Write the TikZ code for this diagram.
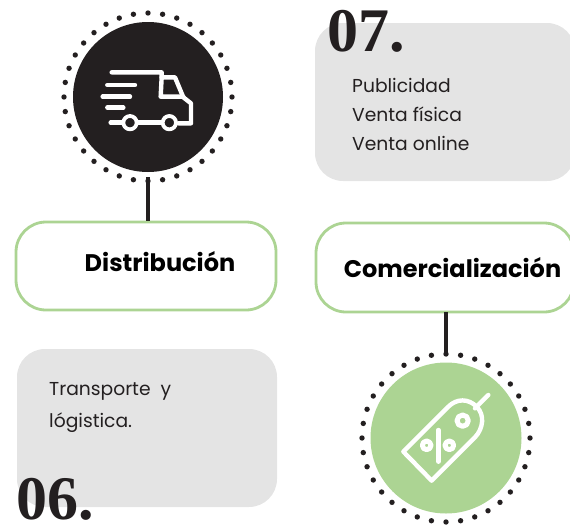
\documentclass[tikz,border=0pt]{standalone}
\usepackage{fontspec}
\usetikzlibrary{calc}
\setmainfont{Poppins}
\newfontfamily\numfont{Liberation Serif}
\definecolor{ink}{HTML}{231F20}
\definecolor{leaf}{HTML}{ACD493}
\definecolor{panel}{HTML}{E4E4E4}
\tikzset{
  panelbox/.style={fill=panel,rounded corners=28pt},
  stagebox/.style={draw=leaf,line width=2.8pt,fill=white,rounded corners=30pt},
  bodytext/.style={font=\fontsize{18.7}{29}\selectfont,anchor=base west,inner sep=0pt,text=ink},
  titletext/.style={font=\fontsize{24}{28}\selectfont\bfseries,inner sep=0pt,text=black,anchor=base},
  numtext/.style={font=\fontsize{62}{62}\numfont\bfseries,inner sep=0pt,text=ink,anchor=base west},
  icon/.style={draw=white,line width=4.4pt,line cap=round,line join=round},
  link/.style={draw=ink,line width=3.2pt},
  ringdot/.style={fill=ink,draw=none},
}
\begin{document}
\begin{tikzpicture}[x=1pt,y=-1pt]
\useasboundingbox (0,0) rectangle (570,525);
% panels
\fill[panelbox] (315,23) rectangle (575,181);
\fill[panelbox] (17,349) rectangle (277,507);
% numbers
\node[numtext] (n07) at (327,51) {07.};
\node[numtext] (n06) at (16,519) {06.};
% panel text
\node[bodytext] (t1) at (352,92) {Publicidad};
\node[bodytext] (t2) at (352,121) {Venta física};
\node[bodytext] (t3) at (352,150) {Venta online};
\node[bodytext] (t4) at (49,395) {Transporte\ \ y};
\node[bodytext] (t5) at (49,427) {lógistica.};
% discs
\node[circle,fill=ink,minimum size=150pt,inner sep=0pt] (disc1) at (148,97) {};
\node[circle,fill=leaf,minimum size=151pt,inner sep=0pt] (disc2) at (446,438) {};
\foreach \a in {0,10,...,350}{
  \fill[ringdot] (148,97) ++(\a:84 and -84) circle (2.7pt);
  \fill[ringdot] (446,438) ++(\a:84 and -84) circle (2.7pt);
}
% stage boxes
\node[stagebox,minimum width=260pt,minimum height=88pt,inner sep=0pt] (dist) at (146,266) {};
\node[titletext] (distlabel) at (160,271) {Distribución};
\draw[stagebox] (316,223) rectangle (574,312);
\coordinate (comtop) at (446,312);
\node[titletext] (com) at (452.5,277) {Comercialización};
% connectors
\draw[link] ($(disc1.south)+(0,5)$) -- (disc1.south |- dist.north);
\draw[link] (comtop) -- ($(disc2.north)+(0,-10)$);
% truck
\begin{scope}[shift={(50,0)},scale=1/3]
  \draw[icon] (185,217) -- (335,217) -- (335,232) -- (375,232) -- (400,292) -- (423,310) -- (423,370) -- (385,370);
  \draw[icon] (335,232) -- (332,290) -- (400,290);
  \draw[icon] (172,255) -- (255,255);
  \draw[icon] (158,290) -- (240,290);
  \draw[icon] (172,323) -- (220,323);
  \draw[icon] (182,368) -- (215,368);
  \draw[icon] (265,368) -- (333,368);
  \draw[icon,line width=3.8pt] (240,368) circle (20);
  \draw[icon,line width=3.8pt] (358,368) circle (20);
\end{scope}
% tag
\begin{scope}[shift={(350,340)},scale=1/3]
  \draw[icon] (160,335) -- (245,422) -- (375,292) .. controls (400,265) and (405,225) .. (380,200) .. controls (355,175) and (320,175) .. (295,200) -- cycle;
  \draw[icon,line width=5pt] (338,242) circle (17);
  \draw[icon] (375,205) -- (415,165);
  \draw[icon] (265,270) -- (265,365);
  \draw[icon,line width=5pt] (230,316) circle (13);
  \draw[icon,line width=5pt] (298,316) circle (13);
\end{scope}
\end{tikzpicture}
\end{document}
